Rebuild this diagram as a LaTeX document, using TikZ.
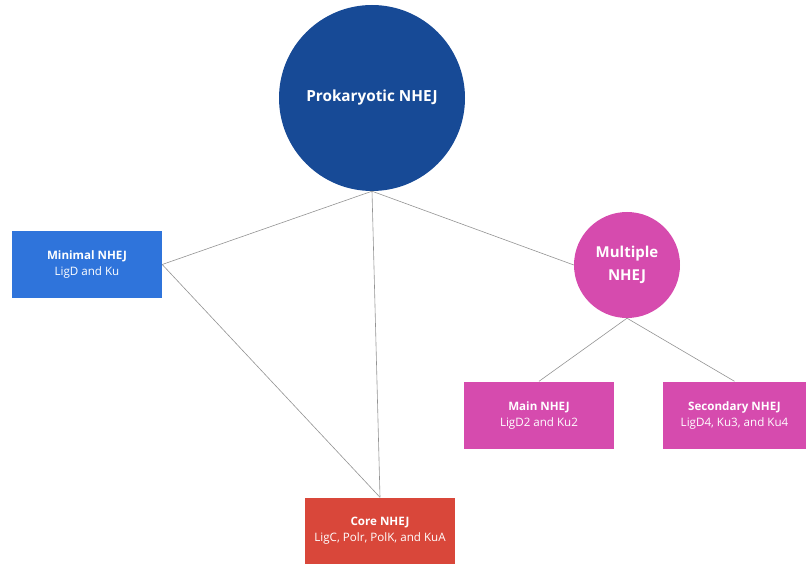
\documentclass[tikz,border=0pt]{standalone}
\usepackage{fontspec}
\setmainfont{Open Sans}
\usepackage{tikz}
\usetikzlibrary{positioning}

\definecolor{darkblue}{HTML}{174A96}
\definecolor{midblue}{HTML}{2F74DB}
\definecolor{magenta}{HTML}{D64BAE}
\definecolor{coral}{HTML}{D9473A}

\tikzset{
  group/.style={circle, fill=#1, text=white, align=center, inner sep=0pt, font=\bfseries},
  leaf/.style={rectangle, fill=#1, text=white, align=center, minimum width=150pt, minimum height=67pt, inner sep=0pt, font=\fontsize{11.6}{16}\selectfont},
  link/.style={draw=gray!85, line width=0.6pt}
}

\begin{document}
\begin{tikzpicture}[x=1pt,y=-1pt]
\useasboundingbox (0,0) rectangle (806,564);

% circles
\node[group=darkblue, minimum size=186pt, font=\bfseries\fontsize{15.3}{18}\selectfont] (prok) at (372,98) {Prokaryotic NHEJ};
\node[group=magenta, minimum size=106pt, font=\bfseries\fontsize{15}{23}\selectfont] (mult) at (627,265) {Multiple\\NHEJ};

% boxes
\node[leaf=midblue] (minimal) at (87,264.5) {\textbf{Minimal NHEJ}\\LigD and Ku};
\node[leaf=coral] (core) at (380,531) {\textbf{Core NHEJ}\\LigC, Polr, PolK, and KuA};
\node[leaf=magenta] (main) at (539,415) {\textbf{Main NHEJ}\\LigD2 and Ku2};
\node[leaf=magenta, minimum width=143pt] (second) at (734.5,415) {\textbf{Secondary NHEJ}\\LigD4, Ku3, and Ku4};

% links
\draw[link] (prok.south) -- (minimal.east);
\draw[link] (prok.south) -- (core.north);
\draw[link] (minimal.east) -- (core.north);
\draw[link] (prok.south) -- (mult.west);
\foreach \n in {main,second}
\draw[link] (mult.south) -- (\n.north);

\end{tikzpicture}
\end{document}
